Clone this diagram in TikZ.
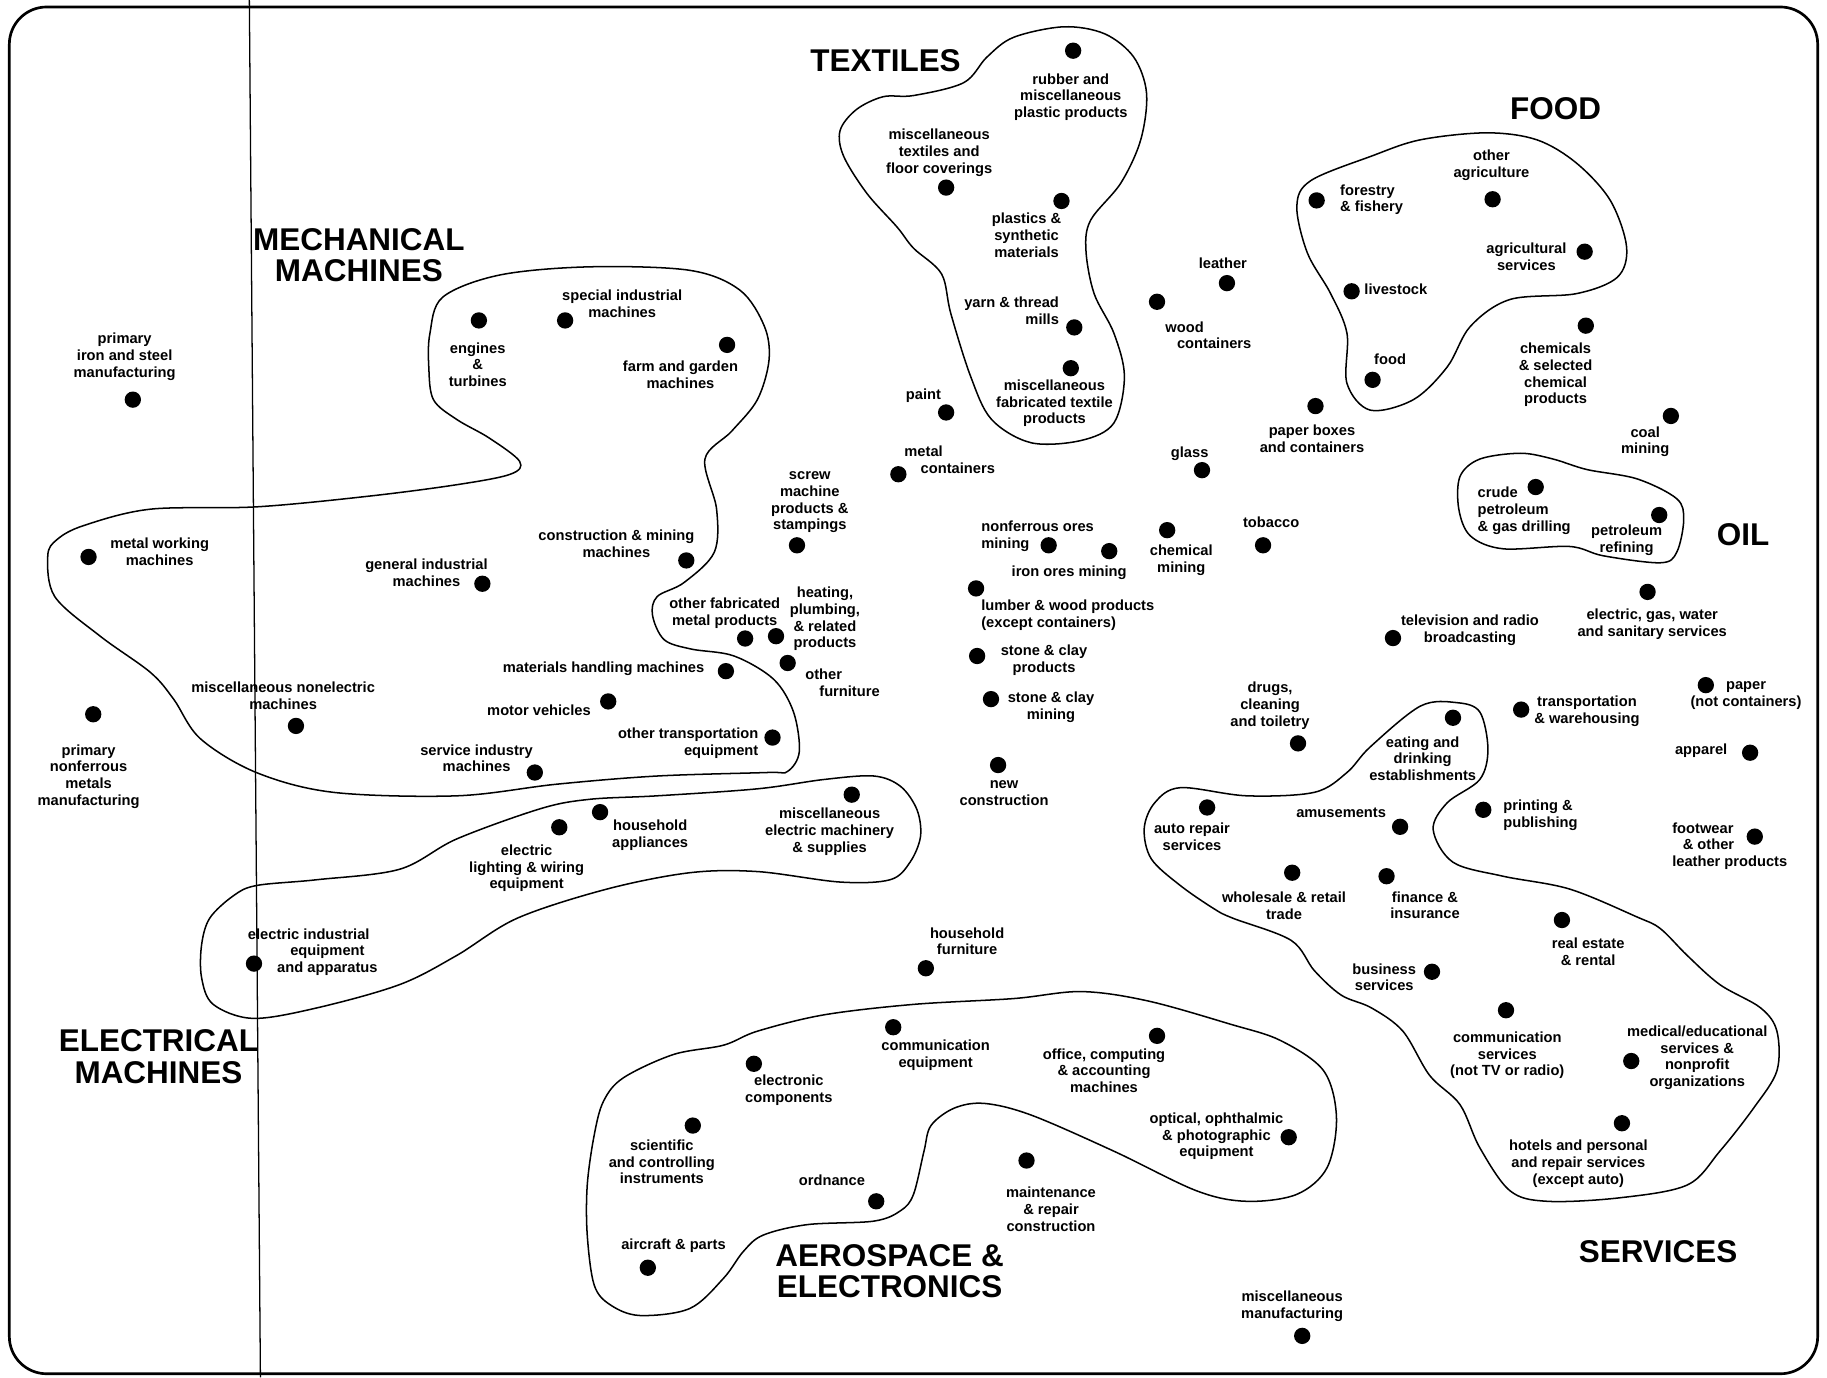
\documentclass[tikz,border=0pt]{standalone}
\usepackage{fontspec}
\setmainfont{Liberation Sans}
\begin{document}
\begin{tikzpicture}[x=1pt,y=-1pt,line join=round,
  dot/.style={circle,fill=black,inner sep=0pt,minimum size=14pt},
  lbl/.style={inner sep=0pt,align=center,anchor=north,yshift=6.2pt,
    font=\fontsize{12.6}{14.3}\selectfont\bfseries,execute at begin node={\strut}},
  lbll/.style={lbl,align=left,anchor=north west},
  lblr/.style={lbl,align=right,anchor=north east},
  ttl/.style={inner sep=0pt,align=center,anchor=north,yshift=9.2pt,
    font=\fontsize{27}{27}\selectfont\bfseries,execute at begin node={\strut}},
  blob/.style={line width=1.3pt}]
\useasboundingbox (0,0) rectangle (1568,1182);
% frame and vertical line
\draw[line width=2.3pt,rounded corners=32pt] (8,6) rectangle (1560,1179);
\draw[line width=1.1pt] (214,0) -- (223.5,1182);

% ---------- blobs ----------
% mechanical
\draw[blob] plot[smooth cycle,tension=0.55] coordinates {
(380,255) (429,236) (506,229) (592,232) (635,249) (656,280) (660,309) (650,343)
(628,370) (605,394) (615,437) (613,474) (587,500) (564,512) (560,528) (570,549)
(593,557) (630,563) (664,583) (681,611) (686,645) (676,662) (658,663) (564,666)
(478,673) (392,683) (286,680) (220,663) (172,634) (149,600) (129,577) (86,546)
(47,512) (41,477) (49,463) (72,451) (129,437) (220,435) (315,426) (392,416)
(438,407) (446,396) (420,376) (392,360) (372,343) (368,315) (369,286)};
% textiles
\draw[blob] plot[smooth cycle,tension=0.55] coordinates {
(721,112) (735,94) (758,83) (784,82) (827,71) (847,49) (870,32) (913,23) (948,29)
(973,49) (984,80) (979,120) (962,157) (936,189) (932,215) (939,252) (956,286)
(965,323) (956,363) (928,378) (885,380) (851,360) (833,323) (816,269) (808,235)
(784,213) (770,195) (744,166) (724,134)};
% food
\draw[blob] plot[smooth cycle,tension=0.55] coordinates {
(1177,134) (1219,120) (1276,114) (1319,120) (1353,140) (1382,172) (1396,212)
(1388,238) (1353,252) (1296,257) (1262,280) (1242,315) (1213,343) (1176,352)
(1156,329) (1156,286) (1142,252) (1122,217) (1113,177) (1125,155)};
% oil
\draw[blob] plot[smooth cycle,tension=0.55] coordinates {
(1270,394) (1305,389) (1333,394) (1362,403) (1405,411) (1439,428) (1445,446)
(1439,474) (1425,483) (1376,477) (1347,469) (1290,471) (1262,460) (1252,437) (1253,409)};
% electrical
\draw[blob] plot[smooth cycle,tension=0.55] coordinates {
(180,788) (200,769) (220,760) (272,755) (343,746) (392,720) (464,694) (506,686)
(564,683) (650,677) (707,669) (750,666) (773,675) (787,695) (790,718) (781,740)
(764,755) (721,757) (650,748) (592,749) (521,763) (444,788) (392,820) (343,845)
(272,865) (217,874) (183,862) (173,839) (173,811)};
% aerospace
\draw[blob] plot[smooth cycle,tension=0.55] coordinates {
(784,862) (870,857) (928,851) (985,859) (1056,879) (1099,893) (1136,919) (1147,959)
(1139,1002) (1113,1025) (1070,1031) (1027,1022) (956,988) (885,957) (845,947)
(819,951) (799,966) (793,988) (784,1025) (773,1039) (750,1048) (693,1051) (655,1060)
(638,1074) (621,1097) (592,1123) (549,1129) (524,1120) (510,1103) (504,1060)
(504,1017) (510,974) (518,945) (535,925) (578,905) (621,897) (650,885) (707,871)};
% services
\draw[blob] plot[smooth cycle,tension=0.55] coordinates {
(1176,641) (1219,606) (1250,603) (1270,611) (1277,643) (1270,669) (1242,689)
(1230,712) (1247,740) (1290,752) (1347,763) (1405,787) (1425,797) (1448,820)
(1476,845) (1511,865) (1525,885) (1525,919) (1505,951) (1476,988) (1448,1017)
(1390,1028) (1328,1031) (1296,1022) (1270,985) (1253,948) (1227,923) (1204,885)
(1177,865) (1151,854) (1128,833) (1108,807) (1058,788) (1042,780) (1013,760)
(988,737) (982,711) (991,689) (1013,676) (1070,683) (1128,680) (1156,663)};

% ---------- titles ----------
\node[ttl] (tTex) at (760,51.5) {TEXTILES};
\node[ttl] (tFood) at (1335,93) {FOOD};
\node[ttl] (tMech) at (308,205) {MECHANICAL\\MACHINES};
\node[ttl] (tOil) at (1496,458) {OIL};
\node[ttl] (tElec) at (136,893) {ELECTRICAL\\MACHINES};
\node[ttl] (tAero) at (763.5,1077) {AEROSPACE \&\\ELECTRONICS};
\node[ttl] (tServ) at (1423,1074) {SERVICES};

% ---------- dots and labels ----------
% left / mechanical
\node[dot] (dIron) at (114,343) {};
\node[lbl] (lIron) at (107,292) {primary\\iron and steel\\manufacturing};
\node[dot] (dMetW) at (76,478) {};
\node[lbl] (lMetW) at (137,468) {metal working\\machines};
\node[dot] (dNonF) at (80,613) {};
\node[lbl] (lNonF) at (76,645) {primary\\nonferrous\\metals\\manufacturing};
\node[dot] (dMiscN) at (254,623) {};
\node[lbl] (lMiscN) at (243,591.5) {miscellaneous nonelectric\\machines};
\node[dot] (dGenI) at (414,501) {};
\node[lbl] (lGenI) at (366,486) {general industrial\\machines};
\node[dot] (dEng) at (411,275) {};
\node[lbl] (lEng) at (410,300) {engines\\\&\\turbines};
\node[dot] (dSpec) at (485,275) {};
\node[lbl] (lSpec) at (534,255) {special industrial\\machines};
\node[dot] (dFarm) at (624,296) {};
\node[lbl] (lFarm) at (584,316) {farm and garden\\machines};
\node[dot] (dCons) at (589,481) {};
\node[lbl] (lCons) at (529,461) {construction \& mining\\machines};
\node[dot] (dMatH) at (623,576) {};
\node[lbl] (lMatH) at (518,573.5) {materials handling machines};
\node[dot] (dMotor) at (522,602) {};
\node[lbl] (lMotor) at (462.6,610) {motor vehicles};
\node[dot] (dServI) at (459,663) {};
\node[lbl] (lServI) at (409,645) {service industry\\machines};
\node[dot] (dOTr) at (663,633) {};
\node[lblr] (lOTr) at (651,631) {other transportation\\equipment};
\node[dot] (dScrew) at (684,468) {};
\node[lbl] (lScrew) at (695,411) {screw\\machine\\products \&\\stampings};
\node[dot] (dOFab) at (639.5,548) {};
\node[lbl] (lOFab) at (622,519) {other fabricated\\metal products};
\node[dot] (dHeat) at (666,546) {};
\node[lbl] (lHeat) at (708,510) {heating,\\plumbing,\\\& related\\products};
\node[dot] (dOFurn) at (676,569) {};
\node[lbll] (lOFurn) at (691,580) {other\\\hspace*{12pt}furniture};

% textiles
\node[dot] (dRub) at (921,43.5) {};
\node[lbl] (lRub) at (919,69) {rubber and\\miscellaneous\\plastic products};
\node[dot] (dMTex) at (812,161) {};
\node[lbl] (lMTex) at (806,117) {miscellaneous\\textiles and\\floor coverings};
\node[dot] (dPlas) at (911,172.5) {};
\node[lbl] (lPlas) at (881,189) {plastics \&\\synthetic\\materials};
\node[dot] (dYarn) at (922,281) {};
\node[lblr] (lYarn) at (909,261) {yarn \& thread\\mills};
\node[dot] (dMFab) at (919,316) {};
\node[lbl] (lMFab) at (905,332) {miscellaneous\\fabricated textile\\products};

% middle
\node[dot] (dPaint) at (812,354) {};
\node[lbl] (lPaint) at (792.6,339) {paint};
\node[dot] (dMCont) at (771,407) {};
\node[lbll] (lMCont) at (776,389) {metal\\\hspace*{14pt}containers};
\node[dot] (dLeath) at (1053,243) {};
\node[lbl] (lLeath) at (1049.5,226) {leather};
\node[dot] (dWood) at (993,259) {};
\node[lbll] (lWood) at (1000,282) {wood\\\hspace*{10pt}containers};
\node[dot] (dGlass) at (1031.6,403.5) {};
\node[lbl] (lGlass) at (1021,389) {glass};
\node[dot] (dPBox) at (1129,348.5) {};
\node[lbl] (lPBox) at (1126,371) {paper boxes\\and containers};
\node[dot] (dNFOre) at (900,468) {};
\node[lbll] (lNFOre) at (842,453) {nonferrous ores\\mining};
\node[dot] (dIrOre) at (952,473) {};
\node[lbl] (lIrOre) at (917.6,491) {iron ores mining};
\node[dot] (dChMin) at (1001.7,455) {};
\node[lbl] (lChMin) at (1013.8,474) {chemical\\mining};
\node[dot] (dTob) at (1084,468) {};
\node[lbl] (lTob) at (1091,449) {tobacco};
\node[dot] (dLumb) at (837.7,505) {};
\node[lbll] (lLumb) at (842,521) {lumber \& wood products\\(except containers)};
\node[dot] (dStP) at (838.6,563) {};
\node[lbl] (lStP) at (896,559.6) {stone \& clay\\products};
\node[dot] (dStM) at (850.5,600) {};
\node[lbl] (lStM) at (902,600) {stone \& clay\\mining};
\node[dot] (dNewC) at (856.6,656.6) {};
\node[lbl] (lNewC) at (861.7,676) {new\\construction};
\node[dot] (dDrug) at (1114,638) {};
\node[lbl] (lDrug) at (1090,591.5) {drugs,\\cleaning\\and toiletry};
\node[dot] (dHFurn) at (794.6,831) {};
\node[lbl] (lHFurn) at (830,802) {household\\furniture};
\node[dot] (dMManu) at (1117.6,1146.5) {};
\node[lbl] (lMManu) at (1109,1114) {miscellaneous\\manufacturing};
\node[dot] (dTV) at (1195.5,547.6) {};
\node[lbl] (lTV) at (1261.6,534) {television and radio\\broadcasting};
\node[dot] (dUtil) at (1414,508) {};
\node[lbl] (lUtil) at (1418,528.7) {electric, gas, water\\and sanitary services};
\node[dot] (dCoal) at (1434,357) {};
\node[lbl] (lCoal) at (1412,372) {coal\\mining};
\node[dot] (dChem) at (1361,279.5) {};
\node[lbl] (lChem) at (1335,300.5) {chemicals\\\& selected\\chemical\\products};

% food
\node[dot] (dFor) at (1130,172) {};
\node[lbll] (lFor) at (1150,164.5) {forestry\\\& fishery};
\node[dot] (dOAg) at (1281,171) {};
\node[lbl] (lOAg) at (1280,134.5) {other\\agriculture};
\node[dot] (dAgS) at (1360,216) {};
\node[lbl] (lAgS) at (1310,214.5) {agricultural\\services};
\node[dot] (dLive) at (1160,250) {};
\node[lbl] (lLive) at (1198,249) {livestock};
\node[dot] (dFood) at (1178,326) {};
\node[lbl] (lFood) at (1193,309) {food};

% oil
\node[dot] (dCrude) at (1318,418) {};
\node[lbll] (lCrude) at (1268,424) {crude\\petroleum\\\& gas drilling};
\node[dot] (dPRef) at (1424,442) {};
\node[lbl] (lPRef) at (1396,456.6) {petroleum\\refining};

% electrical
\node[dot] (dEInd) at (218,827) {};
\node[lbl] (lEInd) at (281,803) {electric industrial\hspace*{32pt}\\equipment\\and apparatus};
\node[dot] (dELight) at (480,710) {};
\node[lbl] (lELight) at (452,731) {electric\\lighting \& wiring\\equipment};
\node[dot] (dHApp) at (515,697) {};
\node[lbl] (lHApp) at (558,710) {household\\appliances};
\node[dot] (dMElec) at (731,682) {};
\node[lbl] (lMElec) at (712,699.5) {miscellaneous\\electric machinery\\\& supplies};

% aerospace
\node[dot] (dCommE) at (766.6,881.6) {};
\node[lbl] (lCommE) at (803,898.6) {communication\\equipment};
\node[dot] (dEComp) at (647,913) {};
\node[lbl] (lEComp) at (677,928.6) {electronic\\components};
\node[dot] (dOffice) at (993,889) {};
\node[lbl] (lOffice) at (947.5,906) {office, computing\\\& accounting\\machines};
\node[dot] (dSci) at (594.6,966) {};
\node[lbl] (lSci) at (568,984.4) {scientific\\and controlling\\instruments};
\node[dot] (dOpt) at (1106,976) {};
\node[lbl] (lOpt) at (1044,961) {optical, ophthalmic\\\& photographic\\equipment};
\node[dot] (dMaint) at (881,996) {};
\node[lbl] (lMaint) at (902,1025) {maintenance\\\& repair\\construction};
\node[dot] (dOrd) at (752,1031) {};
\node[lbl] (lOrd) at (714,1013) {ordnance};
\node[dot] (dAir) at (556,1088) {};
\node[lbl] (lAir) at (578,1068.6) {aircraft \& parts};

% services
\node[dot] (dPaper) at (1464,588) {};
\node[lbl] (lPaper) at (1498.5,591) {paper\\(not containers)};
\node[dot] (dTrans) at (1305.5,609) {};
\node[lbl] (lTrans) at (1362,603.6) {transportation\\\& warehousing};
\node[dot] (dApp) at (1502,646) {};
\node[lbl] (lApp) at (1460,643.7) {apparel};
\node[dot] (dEat) at (1247,616) {};
\node[lbl] (lEat) at (1221,638) {eating and\\drinking\\establishments};
\node[dot] (dPrint) at (1273,695) {};
\node[lbll] (lPrint) at (1290,692.6) {printing \&\\publishing};
\node[dot] (dFoot) at (1506,718) {};
\node[lbll] (lFoot) at (1435,712) {footwear\\\hspace*{9pt}\& other\\leather products};
\node[dot] (dAuto) at (1036,693) {};
\node[lbl] (lAuto) at (1023,712.4) {auto repair\\services};
\node[dot] (dAmuse) at (1201.6,709.6) {};
\node[lbl] (lAmuse) at (1151,698) {amusements};
\node[dot] (dWhole) at (1109,749) {};
\node[lbl] (lWhole) at (1102,771.6) {wholesale \& retail\\trade};
\node[dot] (dFin) at (1190,752) {};
\node[lbl] (lFin) at (1223,771) {finance \&\\insurance};
\node[dot] (dReal) at (1340.5,789.6) {};
\node[lbl] (lReal) at (1363,811) {real estate\\\& rental};
\node[dot] (dBus) at (1229,834) {};
\node[lbl] (lBus) at (1188,833) {business\\services};
\node[dot] (dCommS) at (1292.5,867) {};
\node[lbl] (lCommS) at (1293.6,891.6) {communication\\services\\(not TV or radio)};
\node[dot] (dMed) at (1400,910.6) {};
\node[lbl] (lMed) at (1456.6,886.5) {medical/educational\\services \&\\nonprofit\\organizations};
\node[dot] (dHotel) at (1392,964) {};
\node[lbl] (lHotel) at (1354.6,984.5) {hotels and personal\\and repair services\\(except auto)};
\end{tikzpicture}
\end{document}
